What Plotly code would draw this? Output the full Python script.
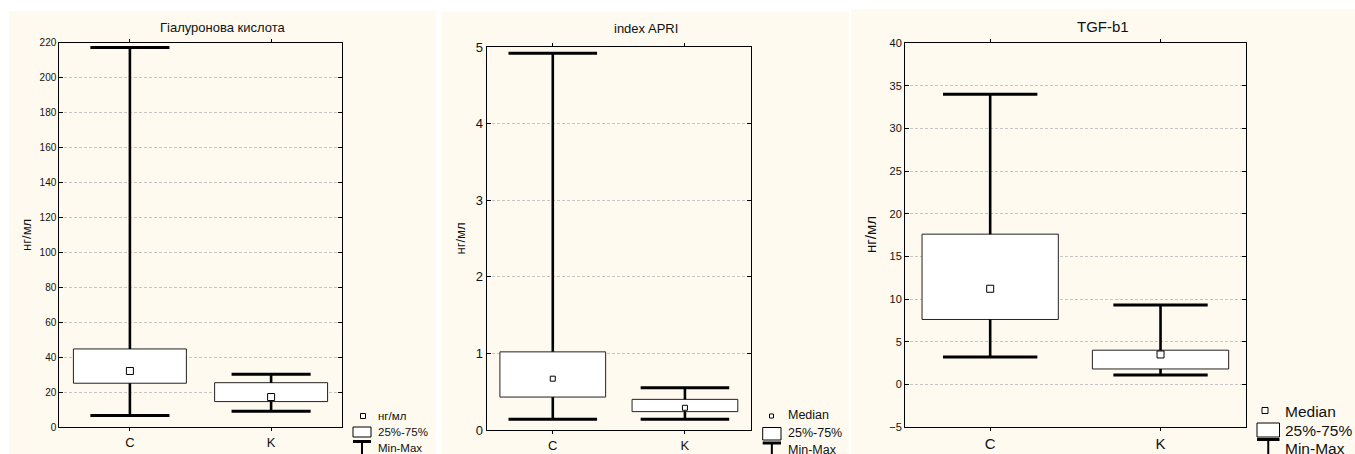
import plotly.graph_objects as go

W, H = 1355, 454
FONT = "Liberation Sans, Arial, sans-serif"
CREAM = "#FEFAEF"

categories = ["C", "K"]

# Гіалуронова кислота
hyal_min = [6.7, 9.2]
hyal_q1 = [25.2, 14.7]
hyal_med = [32.2, 17.3]
hyal_q3 = [44.8, 25.5]
hyal_max = [217.2, 30.3]

# index APRI
apri_min = [0.14, 0.14]
apri_q1 = [0.43, 0.24]
apri_med = [0.67, 0.29]
apri_q3 = [1.02, 0.40]
apri_max = [4.92, 0.55]

# TGF-b1
tgf_min = [3.2, 1.1]
tgf_q1 = [7.6, 1.8]
tgf_med = [11.2, 3.5]
tgf_q3 = [17.6, 4.0]
tgf_max = [34.0, 9.3]

titles = ["Гіалуронова кислота", "index APRI", "TGF-b1"]
legend_first = ["нг/мл", "Median", "Median"]
y_title = "нг/мл"


def px(x):
    return x / W


def py(y):
    return 1 - y / H


panels = [
    dict(mn=hyal_min, q1=hyal_q1, med=hyal_med, q3=hyal_q3, mx=hyal_max,
         area=(59.3, 341.7, 42.5, 427.3), cream=(9.3, 436.0, 11.0),
         yrange=[0, 220], dtick=20, tickfont=10, catfont=13, titlefont=13,
         title_y=27, ytitle_x=27, ytitle_font=13, cap=0.28, med_size=7,
         legfont=11.5, leg=dict(mx=363, my=416, icon=(353, 371), box=(427, 437),
                                bar=441.5, tx=376, t1=416, t2=432, t3=448, msize=5)),
    dict(mn=apri_min, q1=apri_q1, med=apri_med, q3=apri_q3, mx=apri_max,
         area=(486.7, 751.0, 47.0, 430.0), cream=(442.0, 849.3, 12.3),
         yrange=[0, 5], dtick=1, tickfont=13, catfont=13, titlefont=13,
         title_y=28, ytitle_x=460, ytitle_font=13, cap=0.335, med_size=5,
         legfont=12.5, leg=dict(mx=771.5, my=416, icon=(762.7, 781), box=(427.5, 440),
                                bar=443, tx=786, t1=415, t2=433, t3=450, msize=4)),
    dict(mn=tgf_min, q1=tgf_q1, med=tgf_med, q3=tgf_q3, mx=tgf_max,
         area=(905.0, 1245.7, 43.0, 427.0), cream=(851.3, 1355.0, 9.5),
         yrange=[-5, 40], dtick=5, tickfont=11, catfont=15, titlefont=15,
         title_y=26, ytitle_x=870, ytitle_font=15, cap=0.277, med_size=7,
         legfont=15.5, leg=dict(mx=1265, my=410.5, icon=(1257, 1279.5), box=(423, 437),
                                bar=439.5, tx=1283, t1=411, t2=430, t3=448, msize=6)),
]

fig = go.Figure()
shapes = []
annotations = []

for k, p in enumerate(panels):
    idx = "" if k == 0 else str(k + 1)
    xa, ya = "x" + idx, "y" + idx
    n = len(categories)
    xs = list(range(n))

    # Boxes (25%-75%)
    fig.add_trace(go.Bar(
        x=xs, base=p["q1"], y=[b - a for a, b in zip(p["q1"], p["q3"])],
        width=0.8, marker=dict(color="white", line=dict(color="#222", width=1)),
        xaxis=xa, yaxis=ya, showlegend=False, hoverinfo="skip"))

    # Whisker stems
    wx, wy = [], []
    for i in xs:
        wx += [i, i, None, i, i, None]
        wy += [p["mn"][i], p["q1"][i], None, p["q3"][i], p["mx"][i], None]
    fig.add_trace(go.Scatter(x=wx, y=wy, mode="lines",
                             line=dict(color="black", width=2.6),
                             xaxis=xa, yaxis=ya, showlegend=False, hoverinfo="skip"))
    # Whisker caps
    cx, cy = [], []
    for i in xs:
        for v in (p["mn"][i], p["mx"][i]):
            cx += [i - p["cap"], i + p["cap"], None]
            cy += [v, v, None]
    fig.add_trace(go.Scatter(x=cx, y=cy, mode="lines",
                             line=dict(color="black", width=3),
                             xaxis=xa, yaxis=ya, showlegend=False, hoverinfo="skip"))
    # Medians
    fig.add_trace(go.Scatter(x=xs, y=p["med"], mode="markers",
                             marker=dict(symbol="square", size=p["med_size"], color="white",
                                         line=dict(color="black", width=1)),
                             xaxis=xa, yaxis=ya, showlegend=False, hoverinfo="skip"))

    x0, x1, y0, y1 = p["area"]
    axis_common = dict(showline=True, linecolor="black", linewidth=1, mirror="ticks")
    fig.update_layout(**{
        ("xaxis" + idx): dict(domain=[px(x0), px(x1)], range=[-0.5, 1.5],
                              tickvals=xs, ticktext=categories, ticks="outside",
                              ticklen=3, tickcolor="black", showgrid=False,
                              zeroline=False, anchor=ya, automargin=False,
                              tickfont=dict(family=FONT, size=p["catfont"], color="#111"),
                              fixedrange=True, **axis_common),
        ("yaxis" + idx): dict(domain=[py(y1), py(y0)], range=p["yrange"],
                              dtick=p["dtick"], tick0=0, ticks="inside", ticklen=4,
                              tickcolor="black", showgrid=True, gridcolor="#c6c6c6",
                              griddash="3px,2px", gridwidth=1, zeroline=False, anchor=xa,
                              automargin=False,
                              tickfont=dict(family=FONT, size=p["tickfont"], color="#111"),
                              fixedrange=True, **axis_common),
    })

    # Panel background
    cx0, cx1, cy0 = p["cream"]
    shapes.append(dict(type="rect", xref="paper", yref="paper", layer="below",
                       x0=px(cx0), x1=px(cx1), y0=py(H + 5), y1=py(cy0),
                       fillcolor=CREAM, line=dict(width=0)))
    # Title
    annotations.append(dict(text=titles[k], xref="paper", yref="paper",
                            x=px((cx0 + cx1) / 2), y=py(p["title_y"]),
                            xanchor="center", yanchor="middle", showarrow=False,
                            font=dict(family=FONT, size=p["titlefont"], color="#111")))
    # Y axis title
    annotations.append(dict(text=y_title, xref="paper", yref="paper",
                            x=px(p["ytitle_x"]), y=py((y0 + y1) / 2), textangle=-90,
                            xanchor="center", yanchor="middle", showarrow=False,
                            font=dict(family=FONT, size=p["ytitle_font"], color="#111")))

    # Legend
    L = p["leg"]
    s = L["msize"] / 2
    shapes.append(dict(type="rect", xref="paper", yref="paper",
                       x0=px(L["mx"] - s), x1=px(L["mx"] + s),
                       y0=py(L["my"] + s), y1=py(L["my"] - s),
                       fillcolor="white", line=dict(color="black", width=1)))
    ix0, ix1 = L["icon"]
    shapes.append(dict(type="rect", xref="paper", yref="paper",
                       x0=px(ix0), x1=px(ix1), y0=py(L["box"][1]), y1=py(L["box"][0]),
                       fillcolor="white", line=dict(color="black", width=1)))
    shapes.append(dict(type="line", xref="paper", yref="paper",
                       x0=px(ix0), x1=px(ix1), y0=py(L["bar"]), y1=py(L["bar"]),
                       line=dict(color="black", width=3)))
    shapes.append(dict(type="line", xref="paper", yref="paper",
                       x0=px((ix0 + ix1) / 2), x1=px((ix0 + ix1) / 2),
                       y0=py(L["bar"]), y1=py(H + 10),
                       line=dict(color="black", width=2)))
    for txt, ty in ((legend_first[k], L["t1"]), ("25%-75%", L["t2"]), ("Min-Max", L["t3"])):
        annotations.append(dict(text=txt, xref="paper", yref="paper",
                                x=px(L["tx"]), y=py(ty), xanchor="left", yanchor="middle",
                                showarrow=False,
                                font=dict(family=FONT, size=p["legfont"], color="#111")))

fig.update_layout(
    width=W, height=H, autosize=False,
    margin=dict(l=0, r=0, t=0, b=0, pad=0, autoexpand=False),
    paper_bgcolor="white", plot_bgcolor="white",
    barmode="overlay", showlegend=False,
    shapes=shapes, annotations=annotations,
    font=dict(family=FONT, color="#111"),
)

fig.write_html("out.html", config={"displayModeBar": False},
               post_script="document.body.style.margin='0';document.body.style.overflow='hidden';")
